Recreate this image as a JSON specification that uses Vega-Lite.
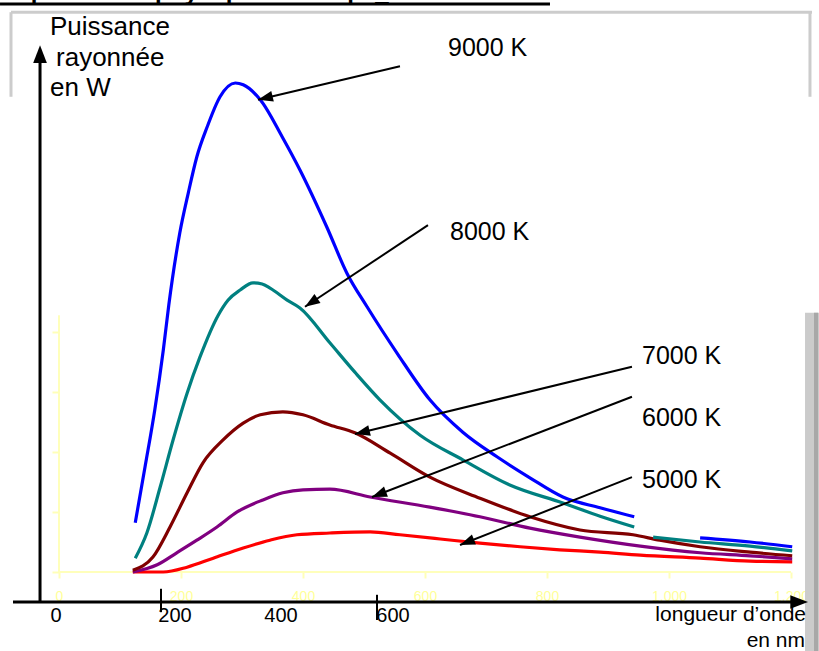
{
  "$schema": "https://vega.github.io/schema/vega-lite/v6.json",
  "width": 819,
  "height": 651,
  "autosize": {"type": "none"},
  "padding": 0,
  "background": "white",
  "config": {"view": {"stroke": null}, "font": "Liberation Sans"},
  "encoding": {
    "x": {
      "field": "nm", "type": "quantitative",
      "scale": {"domain": [-96.72, 1245.9], "nice": false, "zero": false},
      "axis": {"orient": "bottom", "offset": -79, "values": [0, 200, 400, 600, 800, 1000, 1200], "domain": false, "grid": false,
               "tickColor": "#ffffb8", "tickSize": 6, "tickWidth": 2, "labelColor": "#ffff99", "labelFontSize": 14,
               "labelPadding": 11, "labelFont": "Liberation Sans", "title": null}
    },
    "y": {
      "field": "p", "type": "quantitative",
      "scale": {"domain": [-1.317, 9.533], "nice": false, "zero": false},
      "axis": {"orient": "left", "offset": -59, "values": [0, 1, 2, 3, 4], "domain": false, "grid": false, "labels": false,
               "tickColor": "#ffffb8", "tickSize": 7, "tickWidth": 2, "title": null}
    }
  },
  "layer": [
    {
      "data": {"values": [{"nm": 1223, "nm2": 1246, "p": 4.32, "p2": -1.32}]},
      "mark": {"type": "rect", "color": "#cbcbcb"},
      "encoding": {"x2": {"field": "nm2"}, "y2": {"field": "p2"}}
    },
    {
      "data": {"values": [{"nm": 1241, "p": 4.32, "nm2": 1241, "p2": -1.32}]},
      "mark": {"type": "rule", "color": "#a8a8a8", "strokeWidth": 4},
      "encoding": {"x2": {"field": "nm2"}, "y2": {"field": "p2"}}
    },
    {
      "data": {"values": [
        {"nm": -78.7, "p": 9.33, "nm2": 1234.4, "p2": 9.33},
        {"nm": -78.7, "p": 9.33, "nm2": -78.7, "p2": 7.92},
        {"nm": 1231.1, "p": 9.33, "nm2": 1231.1, "p2": 7.92}
      ]},
      "mark": {"type": "rule", "color": "#cccccc", "strokeWidth": 3},
      "encoding": {"x2": {"field": "nm2"}, "y2": {"field": "p2"}}
    },
    {
      "data": {"values": [
        {"nm": 0, "p": 0, "nm2": 1200, "p2": 0},
        {"nm": 0, "p": 0, "nm2": 0, "p2": 4.28}
      ]},
      "mark": {"type": "rule", "color": "#ffffbb", "strokeWidth": 2},
      "encoding": {"x2": {"field": "nm2"}, "y2": {"field": "p2"}}
    },
    {
      "data": {"values": [
        {"T": "5000 K", "seg": "5", "nm": 121, "p": 0}, {"T": "5000 K", "seg": "5", "nm": 171, "p": 0},
        {"T": "5000 K", "seg": "5", "nm": 210, "p": 0.08}, {"T": "5000 K", "seg": "5", "nm": 253, "p": 0.23},
        {"T": "5000 K", "seg": "5", "nm": 302, "p": 0.4}, {"T": "5000 K", "seg": "5", "nm": 346, "p": 0.53},
        {"T": "5000 K", "seg": "5", "nm": 390, "p": 0.62}, {"T": "5000 K", "seg": "5", "nm": 444, "p": 0.65},
        {"T": "5000 K", "seg": "5", "nm": 510, "p": 0.67}, {"T": "5000 K", "seg": "5", "nm": 559, "p": 0.62},
        {"T": "5000 K", "seg": "5", "nm": 625, "p": 0.55}, {"T": "5000 K", "seg": "5", "nm": 690, "p": 0.48},
        {"T": "5000 K", "seg": "5", "nm": 756, "p": 0.42}, {"T": "5000 K", "seg": "5", "nm": 821, "p": 0.37},
        {"T": "5000 K", "seg": "5", "nm": 887, "p": 0.33}, {"T": "5000 K", "seg": "5", "nm": 953, "p": 0.28},
        {"T": "5000 K", "seg": "5", "nm": 1051, "p": 0.23}, {"T": "5000 K", "seg": "5", "nm": 1133, "p": 0.18},
        {"T": "5000 K", "seg": "5", "nm": 1202, "p": 0.17},

        {"T": "6000 K", "seg": "6", "nm": 121, "p": 0}, {"T": "6000 K", "seg": "6", "nm": 161, "p": 0.12},
        {"T": "6000 K", "seg": "6", "nm": 193, "p": 0.32}, {"T": "6000 K", "seg": "6", "nm": 226, "p": 0.53},
        {"T": "6000 K", "seg": "6", "nm": 259, "p": 0.75}, {"T": "6000 K", "seg": "6", "nm": 292, "p": 1.0},
        {"T": "6000 K", "seg": "6", "nm": 334, "p": 1.2}, {"T": "6000 K", "seg": "6", "nm": 367, "p": 1.32},
        {"T": "6000 K", "seg": "6", "nm": 400, "p": 1.37}, {"T": "6000 K", "seg": "6", "nm": 444, "p": 1.38},
        {"T": "6000 K", "seg": "6", "nm": 510, "p": 1.25}, {"T": "6000 K", "seg": "6", "nm": 608, "p": 1.08},
        {"T": "6000 K", "seg": "6", "nm": 690, "p": 0.92}, {"T": "6000 K", "seg": "6", "nm": 772, "p": 0.73},
        {"T": "6000 K", "seg": "6", "nm": 854, "p": 0.58}, {"T": "6000 K", "seg": "6", "nm": 953, "p": 0.43},
        {"T": "6000 K", "seg": "6", "nm": 1051, "p": 0.32}, {"T": "6000 K", "seg": "6", "nm": 1133, "p": 0.27},
        {"T": "6000 K", "seg": "6", "nm": 1202, "p": 0.22},

        {"T": "7000 K", "seg": "7", "nm": 121, "p": 0.03}, {"T": "7000 K", "seg": "7", "nm": 154, "p": 0.25},
        {"T": "7000 K", "seg": "7", "nm": 182, "p": 0.75}, {"T": "7000 K", "seg": "7", "nm": 210, "p": 1.32},
        {"T": "7000 K", "seg": "7", "nm": 236, "p": 1.82}, {"T": "7000 K", "seg": "7", "nm": 269, "p": 2.2},
        {"T": "7000 K", "seg": "7", "nm": 302, "p": 2.48}, {"T": "7000 K", "seg": "7", "nm": 330, "p": 2.62},
        {"T": "7000 K", "seg": "7", "nm": 367, "p": 2.67}, {"T": "7000 K", "seg": "7", "nm": 400, "p": 2.62},
        {"T": "7000 K", "seg": "7", "nm": 444, "p": 2.45}, {"T": "7000 K", "seg": "7", "nm": 485, "p": 2.32},
        {"T": "7000 K", "seg": "7", "nm": 543, "p": 1.98}, {"T": "7000 K", "seg": "7", "nm": 608, "p": 1.58},
        {"T": "7000 K", "seg": "7", "nm": 690, "p": 1.23}, {"T": "7000 K", "seg": "7", "nm": 772, "p": 0.92},
        {"T": "7000 K", "seg": "7", "nm": 854, "p": 0.7}, {"T": "7000 K", "seg": "7", "nm": 941, "p": 0.62},
        {"T": "7000 K", "seg": "7", "nm": 985, "p": 0.53}, {"T": "7000 K", "seg": "7", "nm": 1051, "p": 0.42},
        {"T": "7000 K", "seg": "7", "nm": 1133, "p": 0.33}, {"T": "7000 K", "seg": "7", "nm": 1202, "p": 0.27},

        {"T": "8000 K", "seg": "8a", "nm": 125, "p": 0.23}, {"T": "8000 K", "seg": "8a", "nm": 144, "p": 0.65},
        {"T": "8000 K", "seg": "8a", "nm": 166, "p": 1.42}, {"T": "8000 K", "seg": "8a", "nm": 187, "p": 2.2},
        {"T": "8000 K", "seg": "8a", "nm": 210, "p": 2.98}, {"T": "8000 K", "seg": "8a", "nm": 231, "p": 3.58},
        {"T": "8000 K", "seg": "8a", "nm": 261, "p": 4.28}, {"T": "8000 K", "seg": "8a", "nm": 277, "p": 4.53},
        {"T": "8000 K", "seg": "8a", "nm": 297, "p": 4.7}, {"T": "8000 K", "seg": "8a", "nm": 318, "p": 4.82},
        {"T": "8000 K", "seg": "8a", "nm": 333, "p": 4.8}, {"T": "8000 K", "seg": "8a", "nm": 346, "p": 4.73},
        {"T": "8000 K", "seg": "8a", "nm": 374, "p": 4.53}, {"T": "8000 K", "seg": "8a", "nm": 395, "p": 4.4},
        {"T": "8000 K", "seg": "8a", "nm": 444, "p": 3.82}, {"T": "8000 K", "seg": "8a", "nm": 485, "p": 3.33},
        {"T": "8000 K", "seg": "8a", "nm": 526, "p": 2.87}, {"T": "8000 K", "seg": "8a", "nm": 592, "p": 2.28},
        {"T": "8000 K", "seg": "8a", "nm": 662, "p": 1.87}, {"T": "8000 K", "seg": "8a", "nm": 739, "p": 1.45},
        {"T": "8000 K", "seg": "8a", "nm": 826, "p": 1.15}, {"T": "8000 K", "seg": "8a", "nm": 887, "p": 0.93},
        {"T": "8000 K", "seg": "8a", "nm": 943, "p": 0.75},
        {"T": "8000 K", "seg": "8b", "nm": 974, "p": 0.58}, {"T": "8000 K", "seg": "8b", "nm": 1051, "p": 0.5},
        {"T": "8000 K", "seg": "8b", "nm": 1133, "p": 0.43}, {"T": "8000 K", "seg": "8b", "nm": 1202, "p": 0.35},

        {"T": "9000 K", "seg": "9a", "nm": 125, "p": 0.82}, {"T": "9000 K", "seg": "9a", "nm": 141, "p": 1.75},
        {"T": "9000 K", "seg": "9a", "nm": 157, "p": 2.7}, {"T": "9000 K", "seg": "9a", "nm": 171, "p": 3.7},
        {"T": "9000 K", "seg": "9a", "nm": 180, "p": 4.45}, {"T": "9000 K", "seg": "9a", "nm": 198, "p": 5.65},
        {"T": "9000 K", "seg": "9a", "nm": 212, "p": 6.32}, {"T": "9000 K", "seg": "9a", "nm": 226, "p": 6.92},
        {"T": "9000 K", "seg": "9a", "nm": 243, "p": 7.42}, {"T": "9000 K", "seg": "9a", "nm": 264, "p": 7.92},
        {"T": "9000 K", "seg": "9a", "nm": 289, "p": 8.15}, {"T": "9000 K", "seg": "9a", "nm": 302, "p": 8.12},
        {"T": "9000 K", "seg": "9a", "nm": 330, "p": 7.87}, {"T": "9000 K", "seg": "9a", "nm": 366, "p": 7.25},
        {"T": "9000 K", "seg": "9a", "nm": 395, "p": 6.7}, {"T": "9000 K", "seg": "9a", "nm": 439, "p": 5.75},
        {"T": "9000 K", "seg": "9a", "nm": 472, "p": 4.98}, {"T": "9000 K", "seg": "9a", "nm": 505, "p": 4.42},
        {"T": "9000 K", "seg": "9a", "nm": 556, "p": 3.62}, {"T": "9000 K", "seg": "9a", "nm": 608, "p": 2.87},
        {"T": "9000 K", "seg": "9a", "nm": 662, "p": 2.33}, {"T": "9000 K", "seg": "9a", "nm": 718, "p": 1.92},
        {"T": "9000 K", "seg": "9a", "nm": 772, "p": 1.57}, {"T": "9000 K", "seg": "9a", "nm": 826, "p": 1.25},
        {"T": "9000 K", "seg": "9a", "nm": 887, "p": 1.07}, {"T": "9000 K", "seg": "9a", "nm": 943, "p": 0.92},
        {"T": "9000 K", "seg": "9b", "nm": 1051, "p": 0.57}, {"T": "9000 K", "seg": "9b", "nm": 1133, "p": 0.5},
        {"T": "9000 K", "seg": "9b", "nm": 1202, "p": 0.42}
      ]},
      "mark": {"type": "line", "strokeWidth": 3.2, "strokeJoin": "round", "interpolate": "monotone"},
      "encoding": {
        "color": {"field": "T", "type": "nominal",
                  "scale": {"domain": ["5000 K", "6000 K", "7000 K", "8000 K", "9000 K"],
                            "range": ["#ff0000", "#800080", "#800000", "#008080", "#0000ff"]},
                  "legend": null},
        "detail": {"field": "seg"}
      }
    },
    {
      "data": {"values": [
        {"nm": -75.4, "p": -0.5, "nm2": 1214.8, "p2": -0.5},
        {"nm": -31.1, "p": -0.5, "nm2": -31.1, "p2": 8.55}
      ]},
      "mark": {"type": "rule", "color": "black", "strokeWidth": 3},
      "encoding": {"x2": {"field": "nm2"}, "y2": {"field": "p2"}}
    },
    {
      "data": {"values": [
        {"nm": 167.2, "p": -0.28, "nm2": 167.2, "p2": -0.67},
        {"nm": 521.3, "p": -0.38, "nm2": 521.3, "p2": -0.8},
        {"nm": 559.0, "p": 8.43, "nm2": 326.2, "p2": 7.87},
        {"nm": 604.9, "p": 5.78, "nm2": 403.3, "p2": 4.42},
        {"nm": 939.3, "p": 3.42, "nm2": 485.2, "p2": 2.3},
        {"nm": 939.3, "p": 2.92, "nm2": 513.1, "p2": 1.25},
        {"nm": 939.3, "p": 1.58, "nm2": 657.4, "p2": 0.45}
      ]},
      "mark": {"type": "rule", "color": "black", "strokeWidth": 2},
      "encoding": {"x2": {"field": "nm2"}, "y2": {"field": "p2"}}
    },
    {
      "data": {"values": [
        {"nm": 326.2, "p": 7.87, "dir": 256.5},
        {"nm": 403.3, "p": 4.42, "dir": 236.3},
        {"nm": 485.2, "p": 2.3, "dir": 256.4},
        {"nm": 513.1, "p": 1.25, "dir": 249},
        {"nm": 657.4, "p": 0.45, "dir": 248.4}
      ]},
      "mark": {"type": "point", "shape": "M0,0L-0.8,2.2L0.8,2.2Z", "filled": true, "color": "black", "opacity": 1, "size": 185, "strokeWidth": 0},
      "encoding": {"angle": {"field": "dir", "type": "quantitative", "scale": null}}
    },
    {
      "data": {"values": [
        {"nm": -31.1, "p": 8.78, "dir": 0},
        {"nm": 1227.9, "p": -0.5, "dir": 90}
      ]},
      "mark": {"type": "point", "shape": "M0,0L-0.85,2.2L0.85,2.2Z", "filled": true, "color": "black", "opacity": 1, "size": 260, "strokeWidth": 0},
      "encoding": {"angle": {"field": "dir", "type": "quantitative", "scale": null}}
    },
    {
      "data": {"values": [
        {"nm": 637.7, "p": 8.73, "label": "9000 K"},
        {"nm": 641.0, "p": 5.67, "label": "8000 K"},
        {"nm": 955.7, "p": 3.6, "label": "7000 K"},
        {"nm": 955.7, "p": 2.57, "label": "6000 K"},
        {"nm": 955.7, "p": 1.53, "label": "5000 K"}
      ]},
      "mark": {"type": "text", "align": "left", "baseline": "middle", "fontSize": 25, "font": "Liberation Sans", "color": "black"},
      "encoding": {"text": {"field": "label"}}
    },
    {
      "data": {"values": [
        {"nm": -14.75, "p": 8.95, "label": "Puissance"},
        {"nm": -4.9, "p": 8.43, "label": "rayonnée"},
        {"nm": -14.75, "p": 7.93, "label": "en W"}
      ]},
      "mark": {"type": "text", "align": "left", "baseline": "alphabetic", "fontSize": 26, "font": "Liberation Sans", "color": "black"},
      "encoding": {"text": {"field": "label"}}
    },
    {
      "data": {"values": [
        {"nm": -4.9, "p": -0.83, "label": "0"},
        {"nm": 190.2, "p": -0.83, "label": "200"},
        {"nm": 363.9, "p": -0.83, "label": "400"},
        {"nm": 547.5, "p": -0.83, "label": "600"}
      ]},
      "mark": {"type": "text", "align": "center", "baseline": "alphabetic", "fontSize": 20, "font": "Liberation Sans", "color": "black"},
      "encoding": {"text": {"field": "label"}}
    },
    {
      "data": {"values": [
        {"nm": 1224.6, "p": -0.82, "label": "longueur d’onde"},
        {"nm": 1223.0, "p": -1.25, "label": "en nm"}
      ]},
      "mark": {"type": "text", "align": "right", "baseline": "alphabetic", "fontSize": 21, "font": "Liberation Sans", "color": "black"},
      "encoding": {"text": {"field": "label"}}
    },
    {
      "data": {"values": [
        {"nm": -96.7, "p": 9.525, "label": "http://www.ilephysique.net/corps_noir.html"}
      ]},
      "mark": {"type": "text", "align": "left", "baseline": "alphabetic", "fontSize": 24, "fontWeight": "bold", "font": "Liberation Sans", "color": "black", "clip": true},
      "encoding": {"text": {"field": "label"}}
    },
    {
      "data": {"values": [{"nm": -96.7, "p": 9.465, "nm2": 804.9, "p2": 9.465}]},
      "mark": {"type": "rule", "color": "black", "strokeWidth": 3},
      "encoding": {"x2": {"field": "nm2"}, "y2": {"field": "p2"}}
    }
  ]
}
